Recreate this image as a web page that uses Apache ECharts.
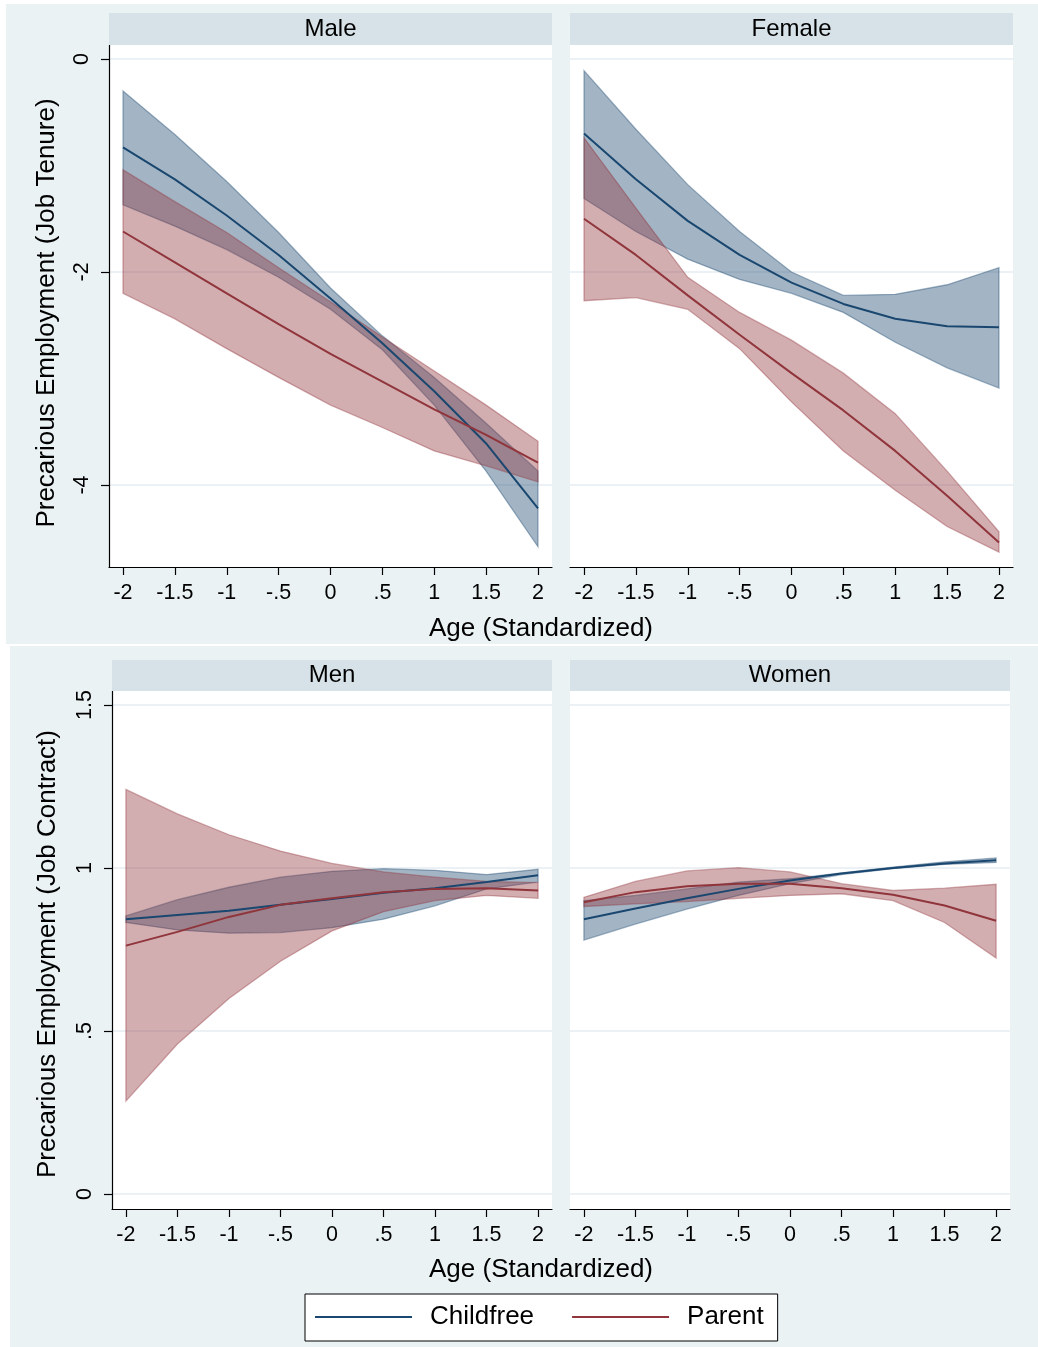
<!DOCTYPE html>
<html>
<head>
<meta charset="utf-8">
<title>Precarious employment by age</title>
<script src="https://cdn.jsdelivr.net/npm/echarts@6/dist/echarts.min.js"></script>
<style>
  html, body { margin: 0; padding: 0; background: #fff; }
  #chart { width: 1038px; height: 1347px; }
</style>
</head>
<body>
<div id="chart"></div>
<script>
// ====== Data ======
var ages = [-2, -1.5, -1, -0.5, 0, 0.5, 1, 1.5, 2];
var ageTicks = [-2, -1.5, -1, -0.5, 0, 0.5, 1, 1.5, 2];
var tenureTicks = [-4, -2, 0];
var contractTicks = [0, 0.5, 1, 1.5];
var panelTitles = ['Male', 'Female', 'Men', 'Women'];
var groupNames = ['Childfree', 'Parent'];
var xTitle = 'Age (Standardized)';
var yTitles = ['Precarious Employment (Job Tenure)', 'Precarious Employment (Job Contract)'];

// Job tenure - Male
var tenureMaleChildfree   = [-0.83, -1.13, -1.47, -1.84, -2.25, -2.67, -3.12, -3.61, -4.22];
var tenureMaleChildfreeLo = [-1.37, -1.57, -1.79, -2.05, -2.35, -2.73, -3.25, -3.87, -4.58];
var tenureMaleChildfreeHi = [-0.30, -0.71, -1.15, -1.63, -2.15, -2.60, -2.99, -3.42, -3.87];
var tenureMaleParent      = [-1.62, -1.91, -2.20, -2.49, -2.77, -3.03, -3.29, -3.53, -3.79];
var tenureMaleParentLo    = [-2.20, -2.44, -2.72, -2.99, -3.25, -3.46, -3.68, -3.82, -3.97];
var tenureMaleParentHi    = [-1.04, -1.34, -1.63, -1.96, -2.28, -2.61, -2.93, -3.25, -3.59];

// Job tenure - Female
var tenureFemaleChildfree   = [-0.70, -1.13, -1.52, -1.84, -2.10, -2.30, -2.44, -2.51, -2.52];
var tenureFemaleChildfreeLo = [-1.31, -1.62, -1.88, -2.07, -2.20, -2.38, -2.66, -2.90, -3.09];
var tenureFemaleChildfreeHi = [-0.11, -0.66, -1.18, -1.62, -2.00, -2.22, -2.21, -2.12, -1.96];
var tenureFemaleParent      = [-1.50, -1.84, -2.22, -2.59, -2.95, -3.30, -3.68, -4.10, -4.54];
var tenureFemaleParentLo    = [-2.27, -2.24, -2.35, -2.72, -3.22, -3.68, -4.05, -4.39, -4.63];
var tenureFemaleParentHi    = [-0.74, -1.40, -2.05, -2.38, -2.64, -2.95, -3.33, -3.87, -4.44];

// Job contract - Men
var contractMenChildfree   = [0.843, 0.856, 0.869, 0.887, 0.905, 0.924, 0.938, 0.957, 0.978];
var contractMenChildfreeLo = [0.833, 0.810, 0.800, 0.802, 0.817, 0.843, 0.884, 0.936, 0.957];
var contractMenChildfreeHi = [0.853, 0.903, 0.941, 0.972, 0.990, 0.998, 0.993, 0.980, 0.996];
var contractMenParent      = [0.762, 0.804, 0.850, 0.887, 0.907, 0.926, 0.936, 0.938, 0.931];
var contractMenParentLo    = [0.285, 0.460, 0.600, 0.714, 0.807, 0.866, 0.900, 0.916, 0.907];
var contractMenParentHi    = [1.241, 1.166, 1.102, 1.052, 1.014, 0.988, 0.972, 0.959, 0.955];

// Job contract - Women
var contractWomenChildfree   = [0.843, 0.876, 0.907, 0.936, 0.962, 0.983, 1.000, 1.014, 1.024];
var contractWomenChildfreeLo = [0.779, 0.828, 0.874, 0.916, 0.952, 0.980, 0.998, 1.011, 1.017];
var contractWomenChildfreeHi = [0.900, 0.916, 0.936, 0.957, 0.967, 0.985, 1.003, 1.019, 1.031];
var contractWomenParent      = [0.895, 0.926, 0.944, 0.952, 0.952, 0.938, 0.918, 0.885, 0.838];
var contractWomenParentLo    = [0.882, 0.890, 0.897, 0.907, 0.916, 0.921, 0.900, 0.833, 0.724];
var contractWomenParentHi    = [0.910, 0.959, 0.991, 1.001, 0.988, 0.952, 0.931, 0.938, 0.950];

(function() {
  var navy = '#1a476f';
  var maroon = '#90353b';
  var navyBand = 'rgba(26,71,111,0.4)';
  var maroonBand = 'rgba(144,53,59,0.4)';
  var regionBg = '#eaf2f3';
  var stripBg = '#d6e2e8';
  var gridColor = '#e4edf0';
  var font = '"Liberation Sans", Arial, Helvetica, sans-serif';

  // panel layout (pixels) + which data go where
  var panels = [
    { left: 109, top: 45, width: 443, height: 522, yMin: -4.77, yMax: 0.131, ticks: tenureTicks, yAxis: true,
      cf: tenureMaleChildfree, cfLo: tenureMaleChildfreeLo, cfHi: tenureMaleChildfreeHi,
      pa: tenureMaleParent, paLo: tenureMaleParentLo, paHi: tenureMaleParentHi },
    { left: 570, top: 45, width: 443, height: 522, yMin: -4.77, yMax: 0.131, ticks: tenureTicks, yAxis: false,
      cf: tenureFemaleChildfree, cfLo: tenureFemaleChildfreeLo, cfHi: tenureFemaleChildfreeHi,
      pa: tenureFemaleParent, paLo: tenureFemaleParentLo, paHi: tenureFemaleParentHi },
    { left: 112, top: 691, width: 440, height: 518, yMin: -0.046, yMax: 1.543, ticks: contractTicks, yAxis: true,
      cf: contractMenChildfree, cfLo: contractMenChildfreeLo, cfHi: contractMenChildfreeHi,
      pa: contractMenParent, paLo: contractMenParentLo, paHi: contractMenParentHi },
    { left: 570, top: 691, width: 440, height: 518, yMin: -0.046, yMax: 1.543, ticks: contractTicks, yAxis: false,
      cf: contractWomenChildfree, cfLo: contractWomenChildfreeLo, cfHi: contractWomenChildfreeHi,
      pa: contractWomenParent, paLo: contractWomenParentLo, paHi: contractWomenParentHi }
  ];

  // Stata style labels: .5 instead of 0.5
  function fmt(v) {
    if (v === 0) return '0';
    return String(v).replace(/^(-?)0\./, '$1.');
  }

  function pairs(ys) {
    return ages.map(function(a, k) { return [a, ys[k]]; });
  }

  function bandSeries(idx, lo, hi, color) {
    return {
      type: 'custom',
      name: 'ci',
      xAxisIndex: idx, yAxisIndex: idx,
      silent: true,
      z: 2,
      data: ages.map(function(a, k) { return [a, lo[k], hi[k]]; }),
      encode: { x: 0, y: [1, 2] },
      renderItem: function(params, api) {
        if (params.dataIndex !== 0) return;
        var upper = [], lower = [];
        for (var k = 0; k < ages.length; k++) {
          upper.push(api.coord([ages[k], hi[k]]));
          lower.unshift(api.coord([ages[k], lo[k]]));
        }
        return {
          type: 'polygon',
          shape: { points: upper.concat(lower) },
          style: { fill: color, stroke: color, lineWidth: 1.3 }
        };
      }
    };
  }

  function lineSeries(idx, name, ys, color) {
    return {
      type: 'line',
      name: name,
      xAxisIndex: idx, yAxisIndex: idx,
      data: pairs(ys),
      symbol: 'none',
      z: 3,
      lineStyle: { color: color, width: 2 },
      itemStyle: { color: color }
    };
  }

  var grids = [], xAxes = [], yAxes = [], series = [];
  panels.forEach(function(p, i) {
    grids.push({
      left: p.left, top: p.top, width: p.width, height: p.height,
      show: true, backgroundColor: '#fff', borderWidth: 0,
      containLabel: false, outerBoundsMode: 'none'
    });
    xAxes.push({
      type: 'value', gridIndex: i, min: -2.135, max: 2.135,
      axisLine: { show: true, onZero: false, lineStyle: { color: '#000', width: 1.2 } },
      axisTick: { show: true, customValues: ageTicks, length: 8, lineStyle: { color: '#000', width: 1.2 } },
      axisLabel: { customValues: ageTicks, formatter: fmt, color: '#000', fontSize: 21.5, fontFamily: font, margin: 15 },
      splitLine: { show: false }
    });
    yAxes.push({
      type: 'value', gridIndex: i, min: p.yMin, max: p.yMax,
      axisLine: { show: p.yAxis, onZero: false, lineStyle: { color: '#000', width: 1.2 } },
      axisTick: { show: p.yAxis, customValues: p.ticks, length: 8, lineStyle: { color: '#000', width: 1.2 } },
      axisLabel: { show: p.yAxis, customValues: p.ticks, formatter: fmt, rotate: 90, color: '#000',
        fontSize: 21.5, fontFamily: font, margin: 16 },
      splitLine: { show: true, lineStyle: { color: gridColor, width: 1.5 } }
    });
    series.push(bandSeries(i, p.cfLo, p.cfHi, navyBand));
    series.push(bandSeries(i, p.paLo, p.paHi, maroonBand));
    series.push(lineSeries(i, groupNames[0], p.cf, navy));
    series.push(lineSeries(i, groupNames[1], p.pa, maroon));
  });

  function textEl(x, y, str, size, rot) {
    return {
      type: 'text', x: x, y: y, rotation: rot || 0, z: 5,
      style: {
        text: str, fill: '#000', fontSize: size, fontFamily: font,
        textAlign: 'center', textVerticalAlign: 'middle', align: 'center', verticalAlign: 'middle'
      }
    };
  }
  function rectEl(x, y, w, h, fill, z) {
    return { type: 'rect', z: z, silent: true, shape: { x: x, y: y, width: w, height: h }, style: { fill: fill } };
  }

  var graphics = [
    rectEl(6, 4, 1032, 640, regionBg, -10),
    rectEl(10, 646, 1028, 701, regionBg, -10)
  ];
  panels.forEach(function(p, i) {
    var sTop = i < 2 ? 13 : 660;
    var sH = p.top - sTop;
    graphics.push(rectEl(p.left, sTop, p.width, sH, stripBg, 1));
    graphics.push(textEl(p.left + p.width / 2, sTop + sH / 2, panelTitles[i], 24));
  });
  graphics.push(textEl(541, 629, xTitle, 26));
  graphics.push(textEl(541, 1270, xTitle, 26));
  graphics.push(textEl(47, 313, yTitles[0], 26, Math.PI / 2));
  graphics.push(textEl(48, 954, yTitles[1], 26, Math.PI / 2));

  var chart = echarts.init(document.getElementById('chart'), null, { renderer: 'canvas' });
  chart.setOption({
    animation: false,
    backgroundColor: '#fff',
    textStyle: { fontFamily: font },
    grid: grids,
    xAxis: xAxes,
    yAxis: yAxes,
    legend: {
      data: groupNames,
      left: 305, top: 1294,
      orient: 'horizontal',
      icon: 'rect',
      itemWidth: 97, itemHeight: 2,
      itemGap: 38,
      padding: [10, 14, 11, 10],
      backgroundColor: '#fff',
      borderColor: '#000', borderWidth: 1, borderRadius: 0,
      selectedMode: false,
      textStyle: { fontSize: 26, color: '#000', fontFamily: font, padding: [0, 0, 0, 13] }
    },
    graphic: graphics,
    series: series
  });

  window.addEventListener('resize', function() { chart.resize(); });
})();
</script>
</body>
</html>
